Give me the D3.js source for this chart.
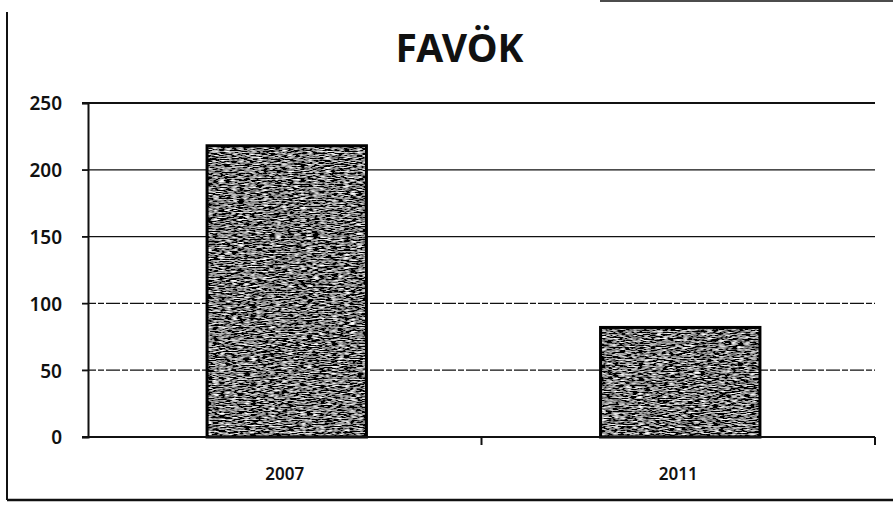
<!DOCTYPE html>
<html>
<head>
<meta charset="utf-8">
<script src="https://cdn.jsdelivr.net/npm/d3@7"></script>
<style>
  body { margin: 0; background: #fff; }
  svg { display: block; }
</style>
</head>
<body>
<svg id="chart"></svg>
<script>
// data
const years = ["2007", "2011"];
const counts = [218, 82];
const yTicks = [0, 50, 100, 150, 200, 250];
const chartTitle = "FAVÖK";

const W = 893, H = 505;
const margin = { top: 103, right: 18, bottom: 68, left: 88 };
const plotW = W - margin.left - margin.right;
const plotH = H - margin.top - margin.bottom;

const svg = d3.select("#chart").attr("width", W).attr("height", H);

// grainy photocopy texture for the bars (horizontal streaks)
const defs = svg.append("defs");
const grain = defs.append("filter").attr("id", "grain")
    .attr("x", 0).attr("y", 0).attr("width", 1).attr("height", 1);
grain.append("feTurbulence")
    .attr("type", "fractalNoise")
    .attr("baseFrequency", "0.16 0.85")
    .attr("numOctaves", 2)
    .attr("seed", 7)
    .attr("result", "noise");
grain.append("feColorMatrix")
    .attr("in", "noise")
    .attr("type", "matrix")
    .attr("values", "1.6 1.6 1.6 0 -2.2  1.6 1.6 1.6 0 -2.2  1.6 1.6 1.6 0 -2.2  0 0 0 0 1")
    .attr("result", "bw");
grain.append("feComposite")
    .attr("in", "bw").attr("in2", "SourceAlpha").attr("operator", "in");

// scanned page frame
const frame = svg.append("g").attr("stroke", "#111").attr("fill", "none");
frame.append("line").attr("x1", 7).attr("x2", 7).attr("y1", 12).attr("y2", 500).attr("stroke-width", 2);
frame.append("line").attr("x1", 7).attr("x2", W).attr("y1", 500).attr("y2", 500).attr("stroke-width", 2.5);
frame.append("line").attr("x1", 600).attr("x2", W).attr("y1", 1).attr("y2", 1).attr("stroke-width", 1.5);

const g = svg.append("g").attr("transform", `translate(${margin.left},${margin.top})`);

const x = d3.scaleBand().domain(years).range([0, plotW]).padding(0);
const y = d3.scaleLinear().domain([0, 250]).range([plotH, 0]);
const barW = x.bandwidth() * 0.405;

// gridlines
g.append("g").selectAll("line")
    .data(yTicks.filter(d => d > 0))
    .join("line")
    .attr("x1", -6).attr("x2", plotW)
    .attr("y1", d => y(d)).attr("y2", d => y(d))
    .attr("stroke", "#111")
    .attr("stroke-width", d => d === 250 ? 2 : 1.3)
    .attr("stroke-dasharray", d => d <= 100 ? "14,2,6,2" : null);

// bars
const bars = g.append("g").selectAll("g")
    .data(years.map((yr, i) => ({ yr, v: counts[i] })))
    .join("g");
bars.append("rect")
    .attr("x", d => x(d.yr) + (x.bandwidth() - barW) / 2 + 2)
    .attr("y", d => y(d.v))
    .attr("width", barW)
    .attr("height", d => plotH - y(d.v))
    .attr("fill", "#444")
    .attr("filter", "url(#grain)");
bars.append("rect")
    .attr("x", d => x(d.yr) + (x.bandwidth() - barW) / 2 + 2)
    .attr("y", d => y(d.v))
    .attr("width", barW)
    .attr("height", d => plotH - y(d.v))
    .attr("fill", "none")
    .attr("stroke", "#000")
    .attr("stroke-width", 3);

// y axis
const yAxis = g.append("g")
    .call(d3.axisLeft(y).tickValues(yTicks).tickSize(6).tickPadding(20));
yAxis.select(".domain").attr("stroke", "#111").attr("stroke-width", 2);
yAxis.selectAll(".tick line").attr("stroke", "#111").attr("stroke-width", 1.3);
yAxis.selectAll("text")
    .attr("fill", "#111")
    .style("font-family", "'Noto Sans', sans-serif")
    .style("font-size", "19px")
    .style("font-weight", "600")
    .attr("dy", "0.36em");

// x axis, ticks on category boundaries
const xAxis = g.append("g").attr("transform", `translate(0,${plotH})`);
xAxis.append("line")
    .attr("x1", -6).attr("x2", plotW)
    .attr("stroke", "#111").attr("stroke-width", 2);
xAxis.selectAll(".bound")
    .data([...years.map(d => x(d)).slice(1), plotW])
    .join("line")
    .attr("class", "bound")
    .attr("x1", d => d).attr("x2", d => d)
    .attr("y1", 0).attr("y2", 8)
    .attr("stroke", "#111").attr("stroke-width", 2);
xAxis.selectAll("text")
    .data(years)
    .join("text")
    .attr("x", d => x(d) + x.bandwidth() / 2)
    .attr("y", 43)
    .attr("text-anchor", "middle")
    .attr("fill", "#111")
    .style("font-family", "'Noto Sans', sans-serif")
    .style("font-size", "17px")
    .style("font-weight", "600")
    .text(d => d);

// title
svg.append("text")
    .attr("x", margin.left + plotW / 2 - 22)
    .attr("y", 62)
    .attr("text-anchor", "middle")
    .attr("fill", "#111")
    .style("font-family", "'Noto Sans', sans-serif")
    .style("font-size", "39px")
    .style("font-weight", "700")
    .text(chartTitle);
</script>
</body>
</html>
